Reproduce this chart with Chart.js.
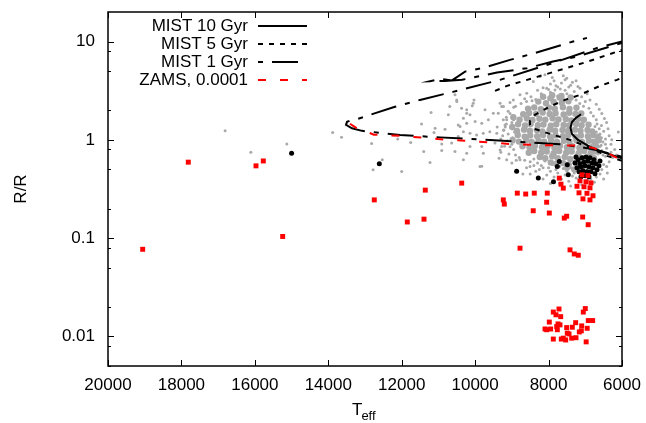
<!DOCTYPE html>
<html>
<head>
<meta charset="utf-8">
<script src="https://cdn.jsdelivr.net/npm/chart.js@4.4.0/dist/chart.umd.min.js"></script>
<style>
html, body { margin: 0; padding: 0; background: #fff; }
#wrap { width: 646px; height: 423px; }
</style>
</head>
<body>
<div id="wrap"><canvas id="hrChart" width="646" height="423"></canvas></div>
<script>
/************************
 *      Data
 ************************/
const X_TICKS = [20000, 18000, 16000, 14000, 12000, 10000, 8000, 6000]
const Y_MAJOR = [0.01, 0.1, 1, 10]
const Y_MINOR = [0.005, 0.008, 0.02, 0.05, 0.08, 0.2, 0.5, 0.8, 2, 5, 8]

const LEGEND_LABELS = ["MIST 10 Gyr", "MIST 5 Gyr", "MIST 1 Gyr", "ZAMS, 0.0001"]

// isochrones: effective temperature (K) and radius (R/Rsun)
const mist10T = [6000, 6463, 6872, 7198, 7362, 7403, 7362, 7253, 7117]
const mist10R = [0.648, 0.737, 0.849, 1.0, 1.15, 1.325, 1.52, 1.675, 1.82]

const mist5T = [6000, 6409, 6872, 7417, 7961, 8370, 8506, 8506, 8370, 7961, 7553, 7144, 6600, 6137, 6000]
const mist5R = [0.611, 0.687, 0.829, 1.0, 1.15, 1.29, 1.42, 1.56, 1.80, 2.19, 2.55, 2.87, 3.54, 4.08, 4.27]
const mist5AgbT = [9459, 9132, 8315, 7498, 6954, 6000]
const mist5AgbR = [3.15, 3.54, 4.37, 5.40, 6.22, 8.23]

const mist1T = [6000, 6600, 7144, 7689, 8778, 9868, 10957, 12047, 12592, 13082, 13355, 13518, 13490, 13355, 13191, 12782, 12183, 11502, 10603, 9323, 7880, 6681, 6000]
const mist1R = [0.671, 0.773, 0.849, 0.900, 0.954, 1.012, 1.06, 1.12, 1.18, 1.235, 1.31, 1.42, 1.525, 1.60, 1.635, 1.84, 2.17, 2.55, 3.08, 4.08, 6.07, 8.6, 10.0]
const mist1LoopT = [6000, 7226, 7880, 8588, 9405, 10358, 10821, 11230, 10957, 10630, 10276, 9786, 9051, 8234, 7335, 6954]
const mist1LoopR = [9.7, 7.04, 6.26, 5.36, 4.84, 4.08, 3.98, 3.94, 4.17, 4.03, 4.95, 5.40, 6.51, 7.92, 10.0, 10.9]

const zamsT = [13410, 13226, 12755, 12000, 11012, 10004, 8996, 7989, 7280, 6790, 6381, 6000]
const zamsR = [1.46, 1.315, 1.13, 1.098, 1.019, 0.965, 0.904, 0.881, 0.875, 0.829, 0.729, 0.618]

// dense part of the grey sample, [Teff, R]
const greyCore = [
    [8150, 2.75], [7900, 2.85], [7650, 2.8], [7400, 2.7],
    [8280, 2.45], [8070, 2.36], [7860, 2.43], [7640, 2.38], [7460, 2.47], [7700, 2.7], [7950, 2.65],
    [8560, 2.08], [8390, 2.14], [8210, 2.05], [7990, 2.12], [7830, 2.07], [7610, 2.15], [7430, 2.06], [7240, 2.12],
    [8690, 1.82], [8530, 1.88], [8340, 1.84], [8160, 1.9], [7970, 1.83], [7810, 1.87], [7590, 1.81], [7440, 1.89], [7270, 1.84], [7110, 1.86],
    [8960, 1.7], [8790, 1.6], [8590, 1.65], [8440, 1.59], [8250, 1.64], [8090, 1.6], [7890, 1.66], [7730, 1.61], [7530, 1.63], [7380, 1.58], [7190, 1.64], [7040, 1.6],
    [8830, 1.44], [8640, 1.4], [8490, 1.45], [8290, 1.41], [8140, 1.43], [7940, 1.39], [7790, 1.44], [7590, 1.42], [7440, 1.4], [7250, 1.45], [7100, 1.41], [6910, 1.43],
    [8990, 1.35], [8860, 1.23], [8670, 1.27], [8510, 1.24], [8320, 1.26], [8170, 1.22], [7970, 1.27], [7820, 1.24], [7620, 1.26], [7470, 1.23], [7280, 1.27], [7130, 1.24], [6940, 1.26], [6810, 1.22],
    [8840, 1.12], [8650, 1.08], [8500, 1.11], [8310, 1.09], [8150, 1.12], [7960, 1.08], [7810, 1.11], [7610, 1.09], [7460, 1.12], [7270, 1.08], [7120, 1.11], [6930, 1.09], [6790, 1.12], [6660, 1.08],
    [8980, 1.0], [8810, 0.96], [8610, 0.99], [8460, 0.95], [8270, 0.98], [8120, 0.96], [7930, 0.99], [7770, 0.95], [7580, 0.98], [7430, 0.96], [7240, 0.99], [7090, 0.95], [6900, 0.98], [6760, 0.96], [6630, 0.99],
    [8710, 0.86], [8520, 0.84], [8370, 0.87], [8180, 0.84], [8030, 0.86], [7840, 0.83], [7690, 0.87], [7500, 0.84], [7350, 0.86], [7160, 0.83], [7010, 0.87], [6830, 0.84], [6710, 0.86],
    [8540, 0.74], [8390, 0.77], [8200, 0.74], [8050, 0.76], [7860, 0.73], [7710, 0.77], [7520, 0.74], [7370, 0.76], [7180, 0.73], [7030, 0.77], [6850, 0.74], [6730, 0.76],
    [8240, 0.67], [8090, 0.65], [7900, 0.68], [7750, 0.65], [7560, 0.67], [7410, 0.64], [7220, 0.67], [7070, 0.65], [6890, 0.68], [6760, 0.65],
    [7940, 0.59], [7790, 0.57], [7600, 0.58], [7450, 0.56], [7260, 0.59], [7110, 0.57], [6960, 0.59],
    [7500, 0.52], [7300, 0.5], [7100, 0.52], [6900, 0.51]
]

// sparse grey stars, [Teff, R]
const greyField = [
    [16810, 1.24], [16110, 0.75], [15130, 0.91], [13880, 1.19], [13640, 1.06], [12820, 0.92], [12780, 0.495], [12530, 0.626],
    [12000, 0.476], [12110, 1.02], [11755, 0.94], [11460, 1.45], [11200, 1.90], [11400, 0.76], [11230, 0.59], [11090, 1.31],
    [11120, 1.19], [10910, 0.91], [10910, 0.78], [10820, 1.28], [10690, 2.18], [10730, 1.80], [10550, 0.76], [10640, 0.93],
    [10460, 1.42], [10320, 0.626], [10230, 0.73], [9820, 0.54],
    [10500, 2.45], [10370, 2.10], [10230, 1.87], [10140, 1.80], [10050, 2.36], [10320, 1.66], [10230, 1.48], [10000, 1.54],
    [9820, 1.48], [9640, 1.60], [10410, 1.37], [10320, 1.21], [10140, 1.17], [9960, 1.12], [9780, 1.17], [10460, 1.08],
    [9600, 1.21], [9410, 1.17], [9230, 1.26], [9370, 1.87], [9230, 2.18], [9320, 2.36], [9140, 1.60], [9460, 0.93],
    [9320, 0.79], [9820, 0.855], [10140, 0.855],
    [10549, 2.87], [10503, 2.55], [10230, 2.02], [10078, 2.22], [10031, 2.55], [9732, 2.02], [9505, 1.87], [9277, 2.18],
    [9233, 1.60], [9187, 1.42], [8961, 2.55], [8778, 2.87], [8596, 2.98], [8416, 3.92], [8234, 4.40], [8052, 3.36],
    [7825, 3.22], [7507, 4.24], [7144, 3.36], [6872, 2.55], [6736, 1.37], [6600, 0.855], [6417, 0.535], [6781, 0.535],
    [8506, 0.535], [9141, 0.626], [8778, 0.626], [9277, 0.855], [9868, 0.535], [9777, 0.73],
    [8650, 2.62], [8480, 2.75], [8350, 2.58], [8200, 2.95], [8100, 2.70], [7950, 3.05], [7900, 2.62], [7750, 2.80],
    [7680, 3.30], [7600, 2.62], [7500, 2.95], [7400, 2.70], [7300, 3.10], [7250, 2.55], [7100, 2.75], [7000, 2.45],
    [6950, 2.95], [7800, 3.55], [7650, 3.80], [7450, 3.45], [7950, 3.70], [8150, 3.40], [7350, 3.85], [7550, 4.10],
    [7200, 3.50], [8300, 3.20], [7850, 4.00],
    [6700, 2.30], [6620, 2.05], [6550, 1.85], [6480, 1.65], [6700, 1.60], [6420, 1.50], [6560, 1.40], [6380, 1.30],
    [6500, 1.22], [6600, 1.15], [6350, 1.10], [6450, 1.02], [6520, 0.95], [6300, 0.90], [6420, 0.82], [6550, 0.78],
    [6300, 0.75], [6450, 0.68], [6600, 0.62], [6350, 0.60], [6500, 0.56], [6250, 0.66],
    [9050, 2.40], [8950, 2.15], [9100, 1.95], [8980, 1.75], [9150, 1.70], [9000, 1.50], [9180, 1.35], [8980, 1.30],
    [9100, 1.15], [9250, 1.10], [8980, 1.05], [9120, 0.98], [9000, 0.90], [9200, 0.86], [8950, 0.80], [9080, 0.72],
    [8900, 0.70], [9300, 1.02], [9400, 1.35], [9350, 0.65],
    [8800, 0.66], [8650, 0.62], [8500, 0.60], [8400, 0.64], [8300, 0.58], [8200, 0.55], [8100, 0.61], [8000, 0.52],
    [7900, 0.56], [7800, 0.50], [7700, 0.54], [7600, 0.51], [7500, 0.48], [7400, 0.52], [7300, 0.46], [7200, 0.50],
    [7100, 0.45], [7000, 0.48], [6900, 0.44], [6800, 0.47], [6700, 0.42], [6600, 0.45], [8600, 0.52], [8350, 0.48],
    [8050, 0.44], [7850, 0.42], [7650, 0.40], [7450, 0.38], [7250, 0.41], [6950, 0.39], [6750, 0.37], [8700, 0.45],
    [7950, 0.36], [7100, 0.35], [6500, 0.40], [6400, 0.46],
    [8750, 2.35], [8600, 2.45], [8450, 2.5], [8900, 2.2], [7150, 2.35], [7050, 2.2], [6900, 2.1], [6850, 1.9],
    [6780, 1.75], [8000, 3.25], [7750, 3.45], [7550, 3.2], [7400, 3.6], [7600, 4.5], [7250, 4.0], [8100, 4.6], [7900, 4.3],
    [6680, 1.45], [6620, 1.3], [6700, 1.2], [6560, 1.05], [6680, 0.92], [6570, 0.88], [6650, 0.72], [6520, 0.7],
    [6450, 0.9], [6280, 1.0], [6200, 0.8], [6150, 0.7], [6100, 1.2],
    [9050, 1.85], [8950, 1.6], [9150, 1.45], [8930, 1.2], [9050, 0.85], [8950, 0.95], [9220, 1.25], [9300, 0.75],
    [8880, 0.62], [9000, 0.58],
    [8400, 0.55], [8250, 0.5], [8150, 0.52], [7950, 0.48], [7750, 0.46], [7550, 0.44], [7350, 0.43], [7150, 0.47],
    [6950, 0.46], [6650, 0.5], [6550, 0.5], [8500, 0.45], [8150, 0.40], [7700, 0.36], [7400, 0.34], [6850, 0.40]
]

// black stars, [Teff, R]
const blackStars = [
    [15000, 0.73], [12610, 0.57], [8870, 0.478], [8280, 0.408], [7866, 0.374], [7762, 0.535], [7708, 0.601],
    [7490, 0.557], [7463, 0.441],
    [7198, 0.626], [7090, 0.656], [6981, 0.671], [6872, 0.656], [6763, 0.626], [7144, 0.570], [7035, 0.597],
    [6927, 0.611], [6818, 0.583], [6709, 0.570], [6627, 0.544], [7226, 0.519], [7117, 0.532], [7008, 0.544],
    [6900, 0.532], [6790, 0.519], [6681, 0.495], [7171, 0.473], [7063, 0.484], [6954, 0.473], [6845, 0.473],
    [6736, 0.451], [7008, 0.431], [6900, 0.421], [7117, 0.421], [6600, 0.611], [7280, 0.583], [7253, 0.671]
]

// red stars, [Teff, R]
const redStars = [
    [19055, 0.077], [15242, 0.104], [17813, 0.593], [15969, 0.544], [15770, 0.61],
    [12747, 0.245], [11848, 0.146], [11393, 0.156], [11358, 0.308], [10366, 0.363],
    [9233, 0.245], [9206, 0.222], [8852, 0.287], [8623, 0.281], [8418, 0.190], [8389, 0.287], [8035, 0.287],
    [8052, 0.232], [7980, 0.180], [7708, 0.408], [7662, 0.354], [7599, 0.323], [7572, 0.160], [7507, 0.167],
    [7071, 0.164], [6921, 0.137], [8778, 0.079], [7416, 0.076], [7300, 0.069], [7191, 0.067],
    [7090, 0.44], [6927, 0.435], [7144, 0.383], [6981, 0.374], [6845, 0.365], [7226, 0.337], [7035, 0.333],
    [6872, 0.325], [7171, 0.289], [6954, 0.286], [7063, 0.251], [6872, 0.245], [6790, 0.27],
    [7871, 0.0177], [7716, 0.0190], [7798, 0.0166], [7670, 0.0159], [7980, 0.0140], [7743, 0.0134], [7689, 0.0131],
    [7779, 0.0126], [8097, 0.0119], [8052, 0.0117], [7943, 0.0119], [7762, 0.0117], [7871, 0.0094], [7653, 0.0094],
    [7599, 0.0096], [7534, 0.0092], [7507, 0.0123], [7490, 0.0108], [7444, 0.0106], [7354, 0.0124], [7262, 0.0138],
    [7371, 0.0096], [7253, 0.0097], [7163, 0.0111], [7098, 0.0128], [7108, 0.0114], [7054, 0.0177], [7000, 0.0192],
    [6918, 0.0145], [6799, 0.0145], [6948, 0.0121], [6976, 0.0088]
]

/************************
 *      Method
 ************************/
const FONT = "'Liberation Sans', Arial, Helvetica, sans-serif"
const GREY = "#a9a9a9"

const toPoints = (ts, rs) => ts.map((t, i) => ({ x: t, y: rs[i] }))
const pairsToPoints = (pairs) => pairs.map(p => ({ x: p[0], y: p[1] }))

const lineSet = (points, color, dash, order) => ({
    data: points,
    showLine: true,
    borderColor: color,
    borderWidth: 2,
    borderDash: dash,
    borderCapStyle: "butt",
    pointRadius: 0,
    tension: 0,
    fill: false,
    order: order
})

const dotSet = (points, color, style, radius, order) => ({
    data: points,
    showLine: false,
    pointStyle: style,
    pointRadius: radius,
    pointBackgroundColor: color,
    pointBorderWidth: 0,
    order: order
})

const DASH_5 = [5, 6]
const DASH_1 = [5, 9, 26, 9]
const DASH_ZAMS = [8, 14]

// frame, inward ticks on all four sides, legend and axis titles
const framePlugin = {
    id: "frame",
    afterDatasetsDraw(chart) {
        const { ctx, chartArea: a, scales: { x, y } } = chart
        ctx.save()
        ctx.strokeStyle = "#000"
        ctx.lineWidth = 1.5
        ctx.strokeRect(a.left, a.top, a.right - a.left, a.bottom - a.top)

        ctx.lineWidth = 1
        ctx.beginPath()
        X_TICKS.forEach(v => {
            const px = Math.round(x.getPixelForValue(v)) + 0.5
            ctx.moveTo(px, a.bottom); ctx.lineTo(px, a.bottom - 6)
            ctx.moveTo(px, a.top); ctx.lineTo(px, a.top + 6)
        })
        Y_MAJOR.forEach(v => {
            const py = Math.round(y.getPixelForValue(v)) + 0.5
            ctx.moveTo(a.left, py); ctx.lineTo(a.left + 6, py)
            ctx.moveTo(a.right, py); ctx.lineTo(a.right - 6, py)
        })
        Y_MINOR.forEach(v => {
            const py = Math.round(y.getPixelForValue(v)) + 0.5
            ctx.moveTo(a.left, py); ctx.lineTo(a.left + 3, py)
            ctx.moveTo(a.right, py); ctx.lineTo(a.right - 3, py)
        })
        ctx.stroke()
        ctx.restore()
    },
    afterDraw(chart) {
        const { ctx, chartArea: a } = chart
        ctx.save()
        ctx.fillStyle = "#000"
        ctx.font = "17px " + FONT

        // key
        const styles = [
            { color: "#000", dash: [] },
            { color: "#000", dash: DASH_5 },
            { color: "#000", dash: DASH_1 },
            { color: "#ff0000", dash: DASH_ZAMS }
        ]
        LEGEND_LABELS.forEach((label, i) => {
            const ry = 26 + i * 18
            ctx.textAlign = "right"
            ctx.textBaseline = "middle"
            ctx.fillText(label, 248, ry)
            ctx.strokeStyle = styles[i].color
            ctx.lineWidth = 2
            ctx.setLineDash(styles[i].dash)
            ctx.beginPath()
            ctx.moveTo(258, ry)
            ctx.lineTo(307, ry)
            ctx.stroke()
        })
        ctx.setLineDash([])

        // x title T_eff
        const cx = (a.left + a.right) / 2
        ctx.textAlign = "left"
        ctx.textBaseline = "alphabetic"
        ctx.fillText("T", cx - 13, 415)
        const tw = ctx.measureText("T").width
        ctx.font = "13px " + FONT
        ctx.fillText("eff", cx - 13 + tw - 1, 420)

        // y title
        ctx.font = "17px " + FONT
        ctx.translate(25.5, (a.top + a.bottom) / 2)
        ctx.rotate(-Math.PI / 2)
        ctx.textAlign = "center"
        ctx.fillText("R/R", 0, 0)
        ctx.restore()
    }
}

const createChart = () => {
    const datasets = [
        lineSet(toPoints(zamsT, zamsR), "#ff0000", DASH_ZAMS, 0),
        lineSet(toPoints(mist1T, mist1R), "#000", DASH_1, 1),
        lineSet(toPoints(mist1LoopT, mist1LoopR), "#000", DASH_1, 1),
        lineSet(toPoints(mist5T, mist5R), "#000", DASH_5, 2),
        lineSet(toPoints(mist5AgbT, mist5AgbR), "#000", DASH_5, 2),
        lineSet(toPoints(mist10T, mist10R), "#000", [], 3),
        dotSet(pairsToPoints(redStars), "#ff0000", "rect", 3.5, 4),
        dotSet(pairsToPoints(blackStars), "#000", "circle", 2.5, 5),
        dotSet(pairsToPoints(greyCore), GREY, "circle", 3.2, 6),
        dotSet(pairsToPoints(greyField), GREY, "circle", 1.5, 7)
    ]

    new Chart("hrChart", {
        type: "scatter",
        data: { datasets: datasets },
        options: {
            responsive: false,
            devicePixelRatio: 1,
            animation: false,
            events: [],
            layout: { padding: { top: 12, right: 24, left: 0, bottom: 0 } },
            plugins: {
                legend: { display: false },
                tooltip: { enabled: false }
            },
            scales: {
                x: {
                    type: "linear",
                    reverse: true,
                    min: 6000,
                    max: 20000,
                    afterFit: (s) => { s.height = 57; s.paddingLeft = 0; s.paddingRight = 0 },
                    afterBuildTicks: (s) => { s.ticks = X_TICKS.map(v => ({ value: v })) },
                    grid: { display: false, drawTicks: false },
                    border: { display: false },
                    ticks: {
                        color: "#000",
                        padding: 9,
                        maxRotation: 0,
                        autoSkip: false,
                        font: { family: FONT, size: 17 },
                        callback: (v) => String(v)
                    }
                },
                y: {
                    type: "logarithmic",
                    min: 0.005,
                    max: 20,
                    afterFit: (s) => { s.width = 108; s.paddingTop = 0; s.paddingBottom = 0 },
                    afterBuildTicks: (s) => { s.ticks = Y_MAJOR.map(v => ({ value: v })) },
                    grid: { display: false, drawTicks: false },
                    border: { display: false },
                    ticks: {
                        color: "#000",
                        padding: 13,
                        autoSkip: false,
                        font: { family: FONT, size: 17 },
                        callback: (v) => String(v)
                    }
                }
            }
        },
        plugins: [framePlugin]
    })
}

createChart()
</script>
</body>
</html>
